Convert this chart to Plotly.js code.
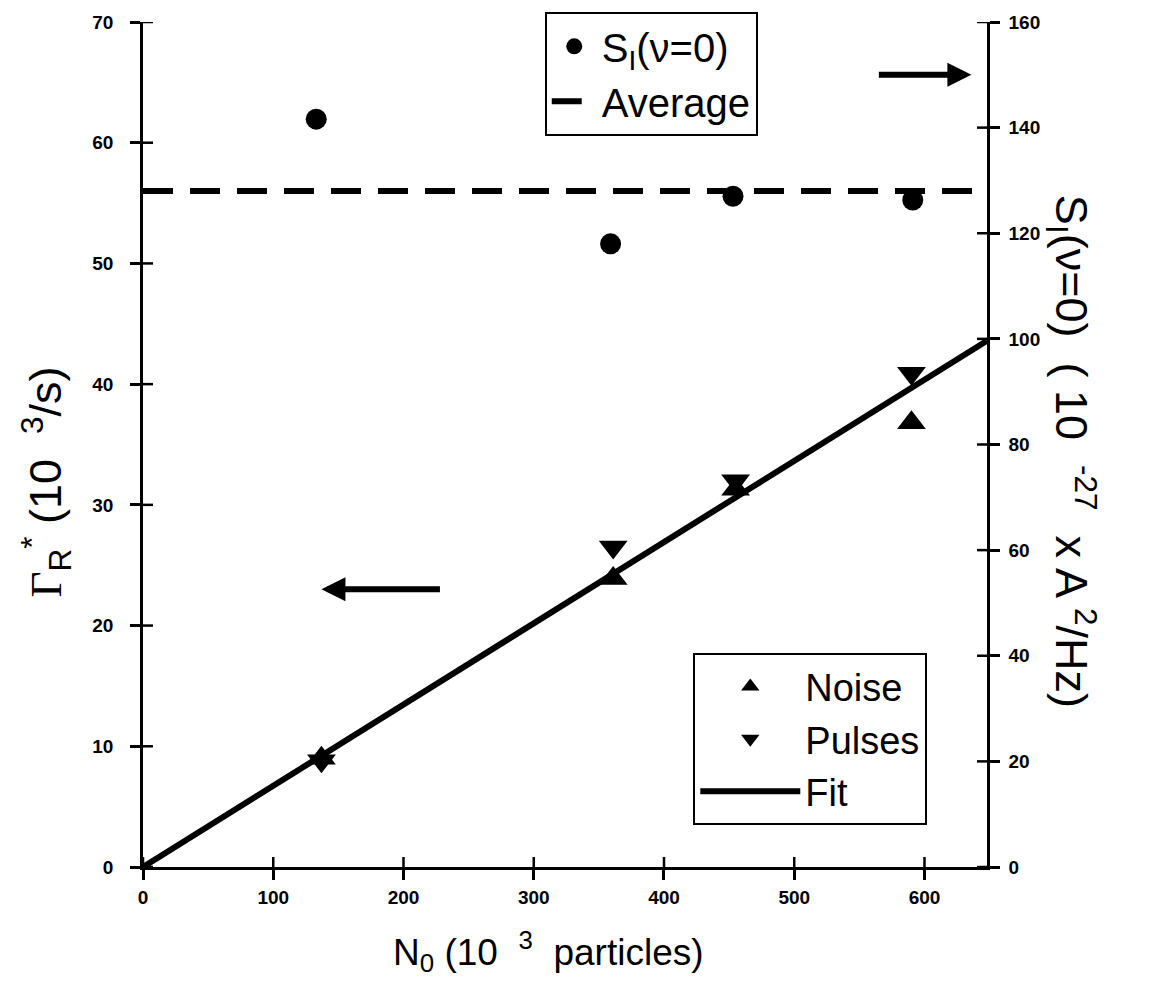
<!DOCTYPE html>
<html><head><meta charset="utf-8">
<script src="https://cdn.plot.ly/plotly-3.0.1.min.js"></script>
<style>body{margin:0;background:#fff}</style>
</head><body><div id="chart" style="width:1151px;height:1003px"></div>
<script>
// S_I(nu=0) points (right axis, 10^-27 A^2/Hz)
const sX = [133, 359, 453, 591];
const sValues = [141.6, 118.0, 127.0, 126.3];
// Average of S_I
const avgX = [0, 648];
const avgValues = [128, 128];
// Gamma_R* (left axis, 10^3/s)
const rateX = [137, 361, 455, 590];
const noiseValues = [9.0, 23.9, 31.3, 36.8];
const pulsesValues = [8.8, 26.5, 32.0, 40.9];
// Linear fit
const fitX = [0, 648];
const fitValues = [0, 43.6];
// Ticks
const xTicks = [0, 100, 200, 300, 400, 500, 600];
const leftTicks = [0, 10, 20, 30, 40, 50, 60, 70];
const rightTicks = [0, 20, 40, 60, 80, 100, 120, 140, 160];

const W = 1151, H = 1003;
const M = {l: 143, r: 164, t: 20, b: 136};
const PW = W - M.l - M.r, PH = H - M.t - M.b;

const FONT = 'Liberation Sans, Arial, sans-serif';
const tickFont = {family: FONT, size: 19, color: '#000', weight: 'bold'};
const TICKLEN = 10;
const TICKW = 2.5;
const tickLine = () => ({color: '#000', width: TICKW});

// inner halves of the crossing ticks, built from the tick arrays
const innerTickShapes = [].concat(
  xTicks.map(v => ({type: 'line', layer: 'above', xref: 'x', yref: 'paper',
    x0: v, x1: v, y0: 0, y1: TICKLEN / PH, line: tickLine()})),
  leftTicks.map(v => ({type: 'line', layer: 'above', xref: 'paper', yref: 'y',
    x0: 0, x1: TICKLEN / PW, y0: v, y1: v, line: tickLine()})),
  rightTicks.map(v => ({type: 'line', layer: 'above', xref: 'paper', yref: 'y2',
    x0: 1 - TICKLEN / PW, x1: 1, y0: v, y1: v, line: tickLine()}))
);

const traces = [
  {x: sX, y: sValues, type: 'scatter', mode: 'markers', yaxis: 'y2',
   name: 'S<sub>I</sub>(ν=0)', legend: 'legend', legendgroup: 'a',
   marker: {symbol: 'circle', size: 21, color: '#000'}},
  {x: avgX, y: avgValues, type: 'scatter', mode: 'lines', yaxis: 'y2',
   name: 'Average', legend: 'legend', legendgroup: 'b',
   line: {color: '#000', width: 6, dash: '30px,17px'}},
  {x: rateX, y: noiseValues, type: 'scatter', mode: 'markers',
   name: 'Noise', legend: 'legend2', legendgroup: 'c',
   marker: {symbol: 'triangle-up', size: 25, color: '#000'}},
  {x: rateX, y: pulsesValues, type: 'scatter', mode: 'markers',
   name: 'Pulses', legend: 'legend2', legendgroup: 'd',
   marker: {symbol: 'triangle-down', size: 25, color: '#000'}},
  {x: fitX, y: fitValues, type: 'scatter', mode: 'lines',
   name: 'Fit', legend: 'legend2', legendgroup: 'e',
   line: {color: '#000', width: 6}}
];

const layout = {
  width: W, height: H,
  margin: M,
  paper_bgcolor: '#fff', plot_bgcolor: '#fff',
  showlegend: true,
  font: {family: FONT, color: '#000'},
  xaxis: {
    range: [0, 648], tickmode: 'array', tickvals: xTicks, ticks: 'outside', ticklen: TICKLEN, tickwidth: TICKW,
    tickcolor: '#000', showline: true, linewidth: 2.5, linecolor: '#000',
    showgrid: false, zeroline: false, tickfont: tickFont, ticklabelstandoff: 1
  },
  yaxis: {
    range: [0, 70], tickmode: 'array', tickvals: leftTicks, ticks: 'outside', ticklen: TICKLEN, tickwidth: TICKW,
    tickcolor: '#000', showline: true, linewidth: 2.5, linecolor: '#000',
    showgrid: false, zeroline: false, tickfont: tickFont, ticklabelstandoff: 13
  },
  yaxis2: {
    overlaying: 'y', side: 'right', anchor: 'x', range: [0, 160], tickmode: 'array', tickvals: rightTicks,
    ticks: 'outside', ticklen: TICKLEN, tickwidth: TICKW, tickcolor: '#000', showline: true,
    linewidth: 2.5, linecolor: '#000', showgrid: false, zeroline: false,
    tickfont: tickFont, ticklabelstandoff: 5
  },
  legend: {
    x: 0.476, y: 1.012, xanchor: 'left', yanchor: 'top',
    bordercolor: '#000', borderwidth: 2, bgcolor: '#fff',
    font: {family: FONT, size: 40, color: '#000'},
    tracegroupgap: 0, itemwidth: 45
  },
  legend2: {
    x: 0.652, y: 0.253, xanchor: 'left', yanchor: 'top',
    bordercolor: '#000', borderwidth: 2, bgcolor: '#fff',
    font: {family: FONT, size: 38, color: '#000'},
    tracegroupgap: 0, itemwidth: 100
  },
  shapes: innerTickShapes,
  annotations: [
    {xref: 'paper', yref: 'paper', x: 0.48, y: -0.10, xanchor: 'center', yanchor: 'middle',
     text: 'N<sub>0</sub> (10  <sup>3</sup>  particles)', showarrow: false,
     font: {family: FONT, size: 37, color: '#000'}},
    {xref: 'paper', yref: 'paper', x: -0.116, y: 0.455, xanchor: 'center', yanchor: 'middle',
     text: '<span style="font-family:Liberation Serif">Γ</span><sub>R</sub><sup>*</sup> (10  <sup>3</sup>/s)',
     textangle: -90, showarrow: false, font: {family: FONT, size: 45, color: '#000'}},
    {xref: 'paper', yref: 'paper', x: 1.10, y: 0.492, xanchor: 'center', yanchor: 'middle', text:
      'S<sub>I</sub>(ν=0)  ( 10  <sup>-27</sup>  x A <sup>2</sup>/Hz)',
     textangle: 90, showarrow: false, font: {family: FONT, size: 45, color: '#000'}},
    {xref: 'x', yref: 'y', x: 137, y: 23, ax: 120, ay: 0, text: '', showarrow: true,
     arrowhead: 2, arrowsize: 0.8, arrowwidth: 6, arrowcolor: '#000'},
    {xref: 'x', yref: 'y2', x: 636, y: 150, ax: -94, ay: 0, text: '', showarrow: true,
     arrowhead: 2, arrowsize: 0.8, arrowwidth: 6, arrowcolor: '#000'}
  ]
};

Plotly.newPlot('chart', traces, layout, {displayModeBar: false, responsive: false});
</script>
</body></html>
